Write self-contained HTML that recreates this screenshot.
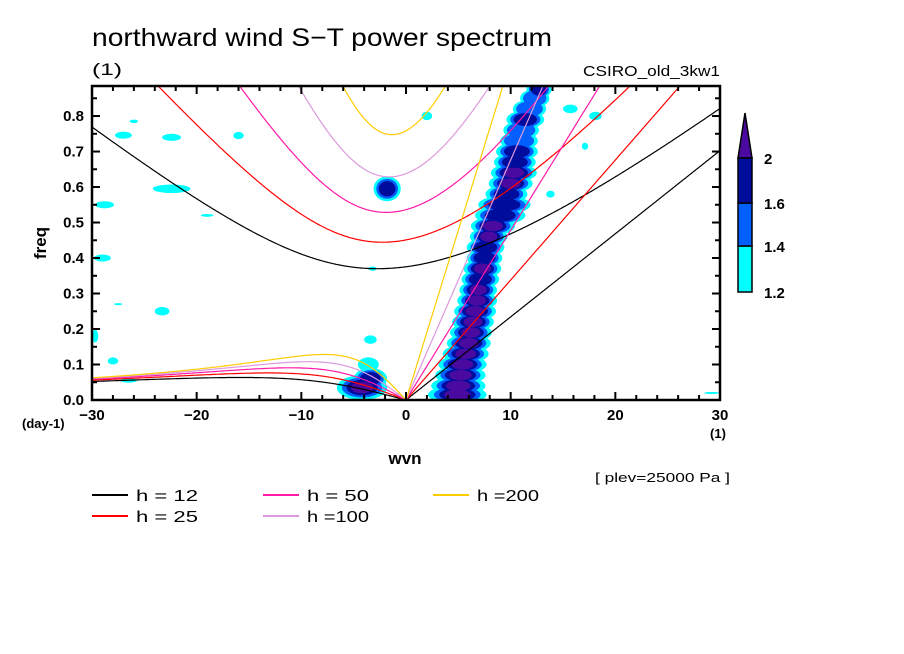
<!DOCTYPE html>
<html><head><meta charset="utf-8">
<style>
html,body{margin:0;padding:0;background:#fff;}
svg{display:block;font-family:"Liberation Sans",sans-serif;}
</style></head>
<body>
<svg id="chart" width="904" height="654" viewBox="0 0 904 654">
<text x="92" y="46" font-size="25" fill="#000" textLength="460" lengthAdjust="spacingAndGlyphs">northward wind S−T power spectrum</text>
<text x="92" y="75" font-size="17" fill="#000" textLength="30" lengthAdjust="spacingAndGlyphs">(1)</text>
<text x="720" y="76" font-size="15" text-anchor="end" fill="#000" textLength="137" lengthAdjust="spacingAndGlyphs">CSIRO_old_3kw1</text>
<defs><clipPath id="plotclip"><rect x="92" y="86" width="628" height="314"/></clipPath></defs>
<g id="blobs" clip-path="url(#plotclip)"></g>
<g id="curves" clip-path="url(#plotclip)"></g>
<rect x="92" y="86" width="628" height="314" fill="none" stroke="#000" stroke-width="2.5"/>
<g id="axes"></g>
<text x="46" y="243" font-size="17" font-weight="bold" text-anchor="middle" transform="rotate(-90 46 243)">freq</text>
<text x="405" y="464" font-size="17" font-weight="bold" text-anchor="middle">wvn</text>
<text x="22" y="428" font-size="13" font-weight="bold">(day-1)</text>
<text x="718" y="438" font-size="13" font-weight="bold" text-anchor="middle">(1)</text>
<text x="730" y="482" font-size="13" text-anchor="end" textLength="135" lengthAdjust="spacingAndGlyphs">[ plev=25000 Pa ]</text>
<g id="legend"></g>
<g id="colorbar"></g>
</svg>
<script>
// ---- data ----
const depths = [12, 25, 50, 100, 200];
const depthColors = ["#000000", "#ff0000", "#ff1aa8", "#dd99dd", "#ffcc00"];
const xTicks = [-30, -20, -10, 0, 10, 20, 30];
const xTickLabels = ["−30", "−20", "−10", "0", "10", "20", "30"];
const yTicks = [0, 0.1, 0.2, 0.3, 0.4, 0.5, 0.6, 0.7, 0.8];
const yTickLabels = ["0.0", "0.1", "0.2", "0.3", "0.4", "0.5", "0.6", "0.7", "0.8"];
const levelValues = [1.2, 1.4, 1.6, 2];
const levelColors = ["#00ffff", "#0060ff", "#000c9c", "#4a0aa0"];
// main Kelvin band: freq, centre wavenumber, half-width, max level
const bandF = [0.015, 0.04, 0.07, 0.10, 0.13, 0.16, 0.19, 0.22, 0.25, 0.28, 0.31, 0.34, 0.37, 0.40, 0.43, 0.46, 0.49, 0.52, 0.55, 0.58, 0.61, 0.64, 0.67, 0.70, 0.73, 0.76, 0.79, 0.82, 0.85, 0.875];
const bandK = [4.9, 5.0, 5.2, 5.4, 5.7, 6.0, 6.2, 6.4, 6.6, 6.8, 6.9, 7.1, 7.3, 7.5, 7.6, 7.9, 8.3, 9.0, 9.4, 9.6, 10.0, 10.3, 10.4, 10.6, 10.8, 11.0, 11.4, 11.8, 12.3, 12.7];
const bandW = [2.8, 2.6, 2.4, 2.3, 2.2, 2.1, 2.0, 2.0, 2.0, 1.9, 1.8, 1.8, 1.8, 1.7, 1.8, 1.8, 2.1, 2.4, 2.5, 2.0, 2.1, 2.2, 2.0, 2.0, 1.8, 1.7, 1.8, 1.6, 1.4, 1.2];
const bandLvl = [4, 4, 4, 4, 4, 4, 4, 4, 4, 4, 4, 3, 4, 3, 3, 4, 4, 3, 3, 3, 4, 4, 3, 3, 2, 2, 3, 2, 2, 3];
// isolated blobs: wavenumber, freq, half-width k, half-height f, level
const spotK = [-4.2, -3.4, -3.6, -3.4, -1.8, -27, -22.4, -16, -26, -28.8, -22.4, -29, -23.3, -29.7, -28, -19, 2, 15.7, 18.1, 17.1, 13.8, -3.2, 29.2, -26.5, -27.5];
const spotF = [0.035, 0.06, 0.10, 0.17, 0.595, 0.746, 0.74, 0.745, 0.785, 0.55, 0.595, 0.40, 0.25, 0.18, 0.11, 0.52, 0.80, 0.82, 0.80, 0.715, 0.58, 0.37, 0.02, 0.055, 0.27];
const spotRk = [2.4, 1.6, 1.0, 0.6, 1.3, 0.8, 0.9, 0.5, 0.4, 0.9, 1.8, 0.8, 0.7, 0.3, 0.5, 0.6, 0.5, 0.7, 0.6, 0.3, 0.4, 0.4, 0.7, 0.8, 0.4];
const spotRf = [0.035, 0.03, 0.02, 0.012, 0.035, 0.01, 0.01, 0.01, 0.005, 0.01, 0.012, 0.01, 0.012, 0.018, 0.01, 0.004, 0.012, 0.012, 0.012, 0.01, 0.01, 0.006, 0.003, 0.006, 0.003];
const spotLvl = [4, 3, 1, 1, 3, 1, 1, 1, 1, 1, 1, 1, 1, 1, 1, 1, 1, 1, 1, 1, 1, 1, 1, 1, 1];

// ---- scales ----
const X0 = 92, X1 = 720, Y0 = 400, Y1 = 86, KMIN = -30, KMAX = 30, FMIN = 0, FMAX = 0.8846;
const xs = k => X0 + (k - KMIN) / (KMAX - KMIN) * (X1 - X0);
const ys = f => Y0 - (f - FMIN) / (FMAX - FMIN) * (Y0 - Y1);
const NS = "http://www.w3.org/2000/svg";
function mk(tag, attrs, parent) { const e = document.createElementNS(NS, tag); for (const a in attrs) e.setAttribute(a, attrs[a]); parent.appendChild(e); return e; }

// ---- blobs ----
const gB = document.getElementById("blobs");
const scales = [1, 0.8, 0.62, 0.45];
for (let lv = 0; lv < 4; lv++) {
  for (let i = 0; i < bandF.length; i++) {
    if (bandLvl[i] <= lv) continue;
    const el = mk("ellipse", {cx: xs(bandK[i]), cy: ys(bandF[i]), rx: bandW[i] * scales[lv] * 10.47, ry: 0.02 * scales[lv] * 355 + 2, fill: levelColors[lv]}, gB);
    
    
  }
  for (let i = 0; i < spotK.length; i++) {
    if (spotLvl[i] <= lv) continue;
    const el = mk("ellipse", {cx: xs(spotK[i]), cy: ys(spotF[i]), rx: spotRk[i] * scales[lv] * 10.47, ry: spotRf[i] * scales[lv] * 355, fill: levelColors[lv]}, gB);
    
    
  }
}

// ---- dispersion curves ----
const gC = document.getElementById("curves");
const A = 6.371e6, BETA = 2.289e-11, G = 9.81;
const toCpd = w => w * 86400 / (2 * Math.PI);
function roots(s, c) {
  const k = s / A, p = -(c * c * k * k + 3 * BETA * c), q = -k * BETA * c * c;
  const m = 2 * Math.sqrt(-p / 3);
  let arg = 3 * q / (2 * p) * Math.sqrt(-3 / p); arg = Math.max(-1, Math.min(1, arg));
  const th = Math.acos(arg) / 3;
  return [0, 1, 2].map(j => m * Math.cos(th - 2 * Math.PI * j / 3)).sort((a, b) => b - a);
}
depths.forEach((h, di) => {
  const c = Math.sqrt(G * h);
  let ig = [], ro = [], kv = [];
  for (let s = -30; s <= 30.001; s += 0.1) {
    const r = roots(s, c);
    ig.push([xs(s), ys(toCpd(r[0]))]);
    if (s <= 0) ro.push([xs(s), ys(toCpd(r[1]))]);
    if (s >= 0) kv.push([xs(s), ys(toCpd(c * s / A))]);
  }
  [["ig", ig], ["rossby", ro], ["kelvin", kv]].forEach(([nm, pts]) => {
    const el = mk("polyline", {points: pts.map(p => p[0].toFixed(1) + "," + p[1].toFixed(1)).join(" "), fill: "none", stroke: depthColors[di], "stroke-width": 1.2}, gC);
    
    
  });
});

// ---- axes ----
const gA = document.getElementById("axes");
for (let k = -30; k <= 30; k += 2) {
  const major = k % 10 === 0, L = major ? 8 : 5;
  mk("line", {x1: xs(k), x2: xs(k), y1: Y0, y2: Y0 - L, stroke: "#000", "stroke-width": 2}, gA);
  mk("line", {x1: xs(k), x2: xs(k), y1: Y1, y2: Y1 + L, stroke: "#000", "stroke-width": 2}, gA);
}
for (let f = 0; f <= 0.88; f += 0.05) {
  const L = (Math.round(f * 100) % 10 === 0) ? 8 : 5;
  mk("line", {x1: X0, x2: X0 + L, y1: ys(f), y2: ys(f), stroke: "#000", "stroke-width": 2}, gA);
  mk("line", {x1: X1, x2: X1 - L, y1: ys(f), y2: ys(f), stroke: "#000", "stroke-width": 2}, gA);
}
xTicks.forEach((k, i) => {
  const t = mk("text", {x: xs(k), y: 420, "font-size": 15, "font-weight": "bold", "text-anchor": "middle"}, gA);
  t.textContent = xTickLabels[i];
  
  
});
yTicks.forEach((f, i) => {
  const t = mk("text", {x: 84, y: ys(f) + 5, "font-size": 15, "font-weight": "bold", "text-anchor": "end"}, gA);
  t.textContent = yTickLabels[i];
  
  
});

// ---- legend ----
const gL = document.getElementById("legend");
const legPos = [[92, 495], [92, 516], [263, 495], [263, 516], [433, 495]];
const legLabels = ["h = 12", "h = 25", "h = 50", "h =100", "h =200"];
depths.forEach((h, i) => {
  const [lx, ly] = legPos[i];
  const g = mk("g", {}, gL);
  
  
  mk("line", {x1: lx, x2: lx + 36, y1: ly, y2: ly, stroke: depthColors[i], "stroke-width": 2}, g);
  const t = mk("text", {x: lx + 44, y: ly + 6, "font-size": 16, textLength: 62, lengthAdjust: "spacingAndGlyphs"}, g);
  t.textContent = legLabels[i];
});

// ---- colorbar ----
const gCB = document.getElementById("colorbar");
const cbY = [292, 246, 203, 158];
mk("polygon", {points: "738,158 752,158 745,113", fill: levelColors[3], stroke: "#000", "stroke-width": 1.5}, gCB);
for (let i = 0; i < 3; i++) {
  const r = mk("rect", {x: 738, y: cbY[i + 1], width: 14, height: cbY[i] - cbY[i + 1], fill: levelColors[i], stroke: "#000", "stroke-width": 1.5}, gCB);
  
  
}
levelValues.forEach((v, i) => {
  const t = mk("text", {x: 764, y: cbY[i] + 6, "font-size": 15, "font-weight": "bold"}, gCB);
  t.textContent = String(v);
  
  
});
</script>
</body></html>
